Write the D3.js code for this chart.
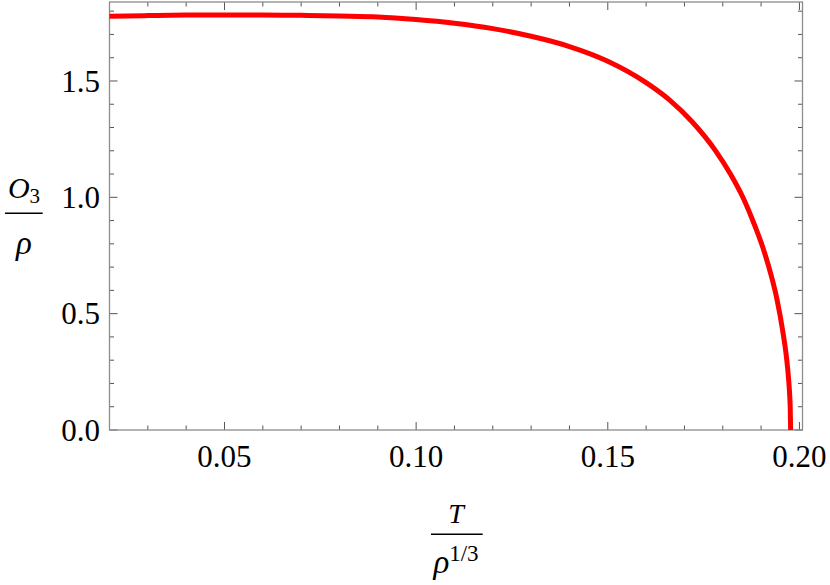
<!DOCTYPE html>
<html>
<head>
<meta charset="utf-8">
<script src="https://cdn.jsdelivr.net/npm/d3@7"></script>
<style>
  html, body { margin: 0; padding: 0; background: #fff; }
  svg { display: block; }
  text { font-family: "Liberation Serif", "Times New Roman", serif; fill: #000; }
</style>
</head>
<body>
<svg id="chart" width="830" height="585"></svg>
<script>
// ---- data ----
const tValues = [0.020, 0.030, 0.040, 0.050, 0.060, 0.070, 0.080, 0.090, 0.100, 0.110,
                 0.120, 0.130, 0.140, 0.150, 0.160, 0.166, 0.172, 0.178, 0.182, 0.1853,
                 0.188, 0.1905, 0.1927, 0.1942, 0.1957, 0.1966, 0.1972, 0.1975, 0.1976, 0.1977];
const o3Values = [1.778, 1.781, 1.783, 1.784, 1.784, 1.782, 1.779, 1.775, 1.764, 1.748,
                  1.725, 1.692, 1.648, 1.585, 1.493, 1.420, 1.325, 1.203, 1.100, 0.998,
                  0.893, 0.782, 0.660, 0.557, 0.420, 0.315, 0.213, 0.136, 0.096, 0.000];
const xMajorTicks = [0.05, 0.10, 0.15, 0.20];
const xTickLabels = ["0.05", "0.10", "0.15", "0.20"];
const xMinorTicks = [0.03, 0.04, 0.06, 0.07, 0.08, 0.09, 0.11, 0.12, 0.13, 0.14, 0.16, 0.17, 0.18, 0.19];
const yMajorTicks = [0.0, 0.5, 1.0, 1.5];
const yTickLabels = ["0.0", "0.5", "1.0", "1.5"];
const yMinorTicks = [0.1, 0.2, 0.3, 0.4, 0.6, 0.7, 0.8, 0.9, 1.1, 1.2, 1.3, 1.4, 1.6, 1.7, 1.8];

// ---- layout ----
const L = 109.5, R = 802.5, T = 2, B = 430;
const svg = d3.select("#chart");
const x = d3.scaleLinear().domain([0.02, 0.2008]).range([L, R]);
const y = d3.scaleLinear().domain([0, 1.8394]).range([B, T]);

const frameColor = "#8c8c8c", tickColor = "#555";
const majLen = 8, minLen = 4.5;

// ticks
const g = svg.append("g");
function ticks(vals, len, isX) {
  vals.forEach(v => {
    if (isX) {
      const px = x(v);
      g.append("line").attr("x1", px).attr("x2", px).attr("y1", B).attr("y2", B - len)
        .attr("stroke", tickColor).attr("stroke-width", 1);
      g.append("line").attr("x1", px).attr("x2", px).attr("y1", T).attr("y2", T + len)
        .attr("stroke", tickColor).attr("stroke-width", 1);
    } else {
      const py = y(v);
      g.append("line").attr("x1", L).attr("x2", L + len).attr("y1", py).attr("y2", py)
        .attr("stroke", tickColor).attr("stroke-width", 1);
      g.append("line").attr("x1", R).attr("x2", R - len).attr("y1", py).attr("y2", py)
        .attr("stroke", tickColor).attr("stroke-width", 1);
    }
  });
}
ticks(xMajorTicks, majLen, true);
ticks(xMinorTicks, minLen, true);
ticks(yMajorTicks, majLen, false);
ticks(yMinorTicks, minLen, false);

// frame
svg.append("rect").attr("x", L).attr("y", T).attr("width", R - L).attr("height", B - T)
  .attr("fill", "none").attr("stroke", frameColor).attr("stroke-width", 1.3);

// tick labels
xMajorTicks.forEach((v, i) => {
  svg.append("text").attr("x", x(v)).attr("y", 467).attr("text-anchor", "middle")
    .attr("font-size", 31).text(xTickLabels[i]);
});
yMajorTicks.forEach((v, i) => {
  svg.append("text").attr("x", 100).attr("y", y(v) + 10.8).attr("text-anchor", "end")
    .attr("font-size", 31).text(yTickLabels[i]);
});

// curve
const pts = tValues.map((t, i) => [t, o3Values[i]]);
const line = d3.line().x(d => x(d[0])).y(d => y(d[1])).curve(d3.curveMonotoneX);
svg.append("path").datum(pts).attr("d", line)
  .attr("fill", "none").attr("stroke", "#ff0000").attr("stroke-width", 5)
  .attr("stroke-linejoin", "round");

// y-axis title: O_3 / rho
const yt = svg.append("g");
const ytx = 24;
const yo = yt.append("text").attr("x", ytx).attr("y", 198).attr("text-anchor", "middle")
  .attr("font-size", 30);
yo.append("tspan").attr("font-style", "italic").text("O");
yo.append("tspan").attr("font-size", 21).attr("dy", 5).text("3");
yt.append("line").attr("x1", 5).attr("x2", 42.7).attr("y1", 213.3).attr("y2", 213.3)
  .attr("stroke", "#000").attr("stroke-width", 1.4);
yt.append("text").attr("x", ytx).attr("y", 254).attr("text-anchor", "middle")
  .attr("font-size", 33).attr("font-style", "italic").text("ρ");

// x-axis title: T / rho^{1/3}
const xt = svg.append("g");
const xcx = (L + R) / 2;
xt.append("text").attr("x", xcx).attr("y", 523.3).attr("text-anchor", "middle")
  .attr("font-size", 28).attr("font-style", "italic").text("T");
xt.append("line").attr("x1", 431).attr("x2", 482.7).attr("y1", 534.3).attr("y2", 534.3)
  .attr("stroke", "#000").attr("stroke-width", 1.4);
const xr = xt.append("text").attr("x", xcx).attr("y", 573).attr("text-anchor", "middle")
  .attr("font-size", 33);
xr.append("tspan").attr("font-style", "italic").text("ρ");
xr.append("tspan").attr("font-size", 23).attr("dy", -12).text("1/3");
</script>
</body>
</html>
